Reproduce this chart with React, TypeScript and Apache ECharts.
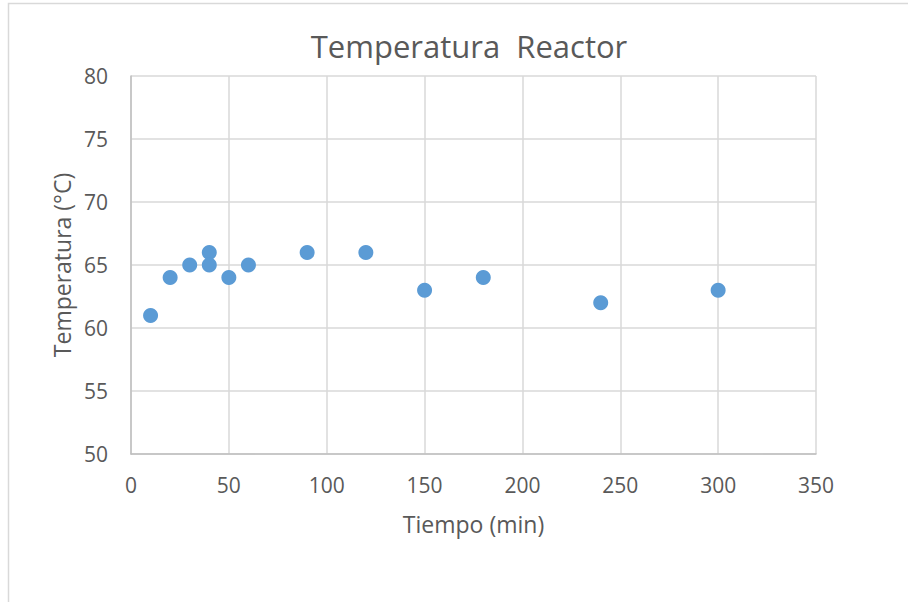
import React, { useEffect, useRef } from "react";
import * as echarts from "echarts";

const tiempo = [10, 20, 30, 40, 40, 50, 60, 90, 120, 150, 180, 240, 300];
const temperatura = [61, 64, 65, 66, 65, 64, 65, 66, 66, 63, 64, 62, 63];

const titleText = "Temperatura  Reactor";
const xName = "Tiempo (min)";
const yName = "Temperatura (°C)";

export default function App() {
  const ref = useRef<HTMLDivElement>(null);
  useEffect(() => {
    if (!ref.current) return;
    const chart = echarts.init(ref.current, null, { renderer: "svg" });
    const font = "'Open Sans', 'Noto Sans', sans-serif";
    chart.setOption({
      animation: false,
      backgroundColor: "#ffffff",
      textStyle: { fontFamily: font },
      title: {
        text: titleText,
        left: 464,
        top: 25,
        textAlign: "center",
        textStyle: { fontFamily: font, fontSize: 31, fontWeight: "normal", color: "#595959" },
      },
      graphic: [
        {
          type: "polyline",
          shape: { points: [[8.5, 602], [8.5, 3.5], [908, 3.5]] },
          style: { stroke: "#d9d9d9", lineWidth: 1.5, fill: "none" },
          silent: true,
        },
      ],
      grid: { left: 131, top: 76, right: 92, bottom: 148, containLabel: false },
      xAxis: {
        type: "value",
        min: 0,
        max: 350,
        interval: 50,
        name: xName,
        nameLocation: "middle",
        nameGap: 58,
        nameTextStyle: { fontFamily: font, fontSize: 23, color: "#595959" },
        axisLine: { show: true, lineStyle: { color: "#bfbfbf", width: 1.5 } },
        axisTick: { show: false },
        axisLabel: { fontFamily: font, fontSize: 21, color: "#595959", margin: 20 },
        splitLine: { show: true, lineStyle: { color: "#d9d9d9", width: 1.5 } },
      },
      yAxis: {
        type: "value",
        min: 50,
        max: 80,
        interval: 5,
        name: yName,
        nameLocation: "middle",
        nameGap: 57,
        nameRotate: 90,
        nameTextStyle: { fontFamily: font, fontSize: 23, color: "#595959" },
        axisLine: { show: true, lineStyle: { color: "#bfbfbf", width: 1.5 } },
        axisTick: { show: false },
        axisLabel: { fontFamily: font, fontSize: 21, color: "#595959", margin: 23 },
        splitLine: { show: true, lineStyle: { color: "#d9d9d9", width: 1.5 } },
      },
      series: [
        {
          type: "scatter",
          data: tiempo.map((t, i) => [t, temperatura[i]]),
          symbol: "circle",
          symbolSize: 15,
          itemStyle: { color: "#5b9bd5", opacity: 1 },
        },
      ],
    });
    return () => chart.dispose();
  }, []);
  return (
    <div
      ref={ref}
      style={{ position: "fixed", left: 0, top: 0, width: 908, height: 602 }}
    />
  );
}
